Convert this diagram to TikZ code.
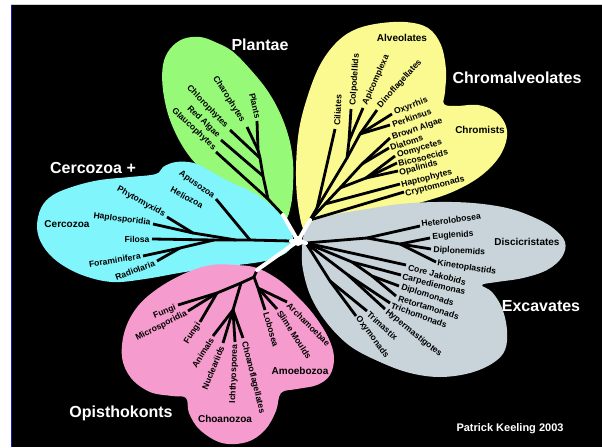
\documentclass[tikz,border=0pt]{standalone}
\usepackage{fontspec}
\setmainfont{Liberation Sans}
\definecolor{cgreen}{RGB}{150,250,120}
\definecolor{cyellow}{RGB}{250,250,145}
\definecolor{ccyan}{RGB}{128,245,252}
\definecolor{cgrey}{RGB}{200,212,218}
\definecolor{cpink}{RGB}{245,155,205}
\definecolor{cblue}{RGB}{20,20,200}
\begin{document}
\begin{tikzpicture}[x=1pt,y=-1pt,
  br/.style={line width=2.8pt, line join=round},
  wl/.style={white, line width=4pt, line cap=round},
  lb/.style={font=\bfseries\fontsize{8.6}{9}\selectfont, inner sep=0.3pt},
  gp/.style={font=\bfseries\fontsize{10}{11}\selectfont, inner sep=0pt},
  tt/.style={font=\bfseries\fontsize{16}{18}\selectfont, text=white, inner sep=0pt},
  petal/.style={smooth cycle, tension=0.6}]
\useasboundingbox (0,0) rectangle (602,447);
% background
\fill[white] (0,0) rectangle (602,447);
\fill[black] (12,5) rectangle (602,447);
\draw[cblue, line width=1.2pt] (11.6,5) -- (11.6,447);
\draw[gray!35, line width=0.8pt] (11,4.6) -- (602,4.6);
% petals
\fill[cyellow] plot[petal] coordinates {(305,232) (298,205) (296,170) (299,130) (308,95) (320,65) (335,44) (352,31) (375,24) (405,22) (428,28) (441,45) (446,70) (445,92) (444,104) (456,106) (478,105) (496,112) (506,126) (506,142) (497,160) (478,178) (450,193) (415,204) (378,213) (345,223) (320,230)};
\fill[cgreen] plot[petal] coordinates {(183,39) (200,37) (215,42) (232,51) (250,69) (267,90) (280,113) (289,138) (293,162) (293,185) (291,205) (285,220) (270,214) (240,195) (205,172) (185,150) (170,120) (163,90) (163,65) (170,49)};
\fill[ccyan] plot[petal] coordinates {(37,228) (41,208) (53,195) (75,186) (100,180) (130,177) (156,174) (163,167) (176,162) (194,163) (210,171) (228,181) (252,192) (273,207) (288,225) (293,241) (286,253) (265,261) (230,266) (185,272) (145,279) (112,282) (82,275) (58,262) (43,246)};
\fill[cpink] plot[petal] coordinates {(257,268) (236,265) (212,265) (188,272) (160,287) (138,306) (125,330) (122,357) (131,378) (150,392) (172,396) (186,398) (189,413) (200,430) (222,443) (247,442) (265,430) (276,411) (281,393) (297,389) (317,385) (330,375) (334,357) (328,337) (314,315) (297,296) (279,280)};
\fill[cgrey] plot[petal] coordinates {(310,223) (333,215) (367,209) (400,204) (437,202) (473,203) (507,208) (533,217) (553,228) (565,242) (562,257) (547,270) (523,278) (497,282) (482,285) (492,292) (502,308) (507,330) (505,350) (493,363) (470,373) (440,377) (410,373) (380,362) (350,346) (327,323) (311,297) (303,270) (302,250) (304,234)};
% ---------- Plantae tree
\coordinate (pb) at (283,215);
\coordinate (pA) at (268,199);
\coordinate (pB) at (263,176);
\coordinate (pC) at (260,158);
\coordinate (pD) at (258,150);
\coordinate (tGl) at (216,152);
\coordinate (tRA) at (221,140);
\coordinate (tCl) at (230,130);
\coordinate (tCh) at (247,127);
\coordinate (tPl) at (257,121);
\draw[br] (pb) -- (pA) -- (tGl);
\draw[br] (pA) -- (pB) -- (pC) -- (pD) -- (tPl);
\draw[br] (pB) -- (tRA);
\draw[br] (pC) -- (tCl);
\draw[br] (pD) -- (tCh);
% ---------- Chromalveolate tree
\coordinate (yb) at (310,220);
\coordinate (yCi) at (317,208);
\coordinate (yA1) at (347,158);
\coordinate (yA2) at (349,141);
\coordinate (yA3) at (360,134);
\coordinate (yH) at (325,204);
\coordinate (yCH) at (340,188);
\coordinate (yS1) at (362,164);
\coordinate (yS2) at (366,178);
\coordinate (tCi) at (335,129);
\coordinate (tCo) at (351,109);
\coordinate (tAp) at (363,108);
\coordinate (tDi) at (377,110);
\coordinate (tOx) at (392,114);
\coordinate (tPe) at (390,125);
\coordinate (tBA) at (390,138);
\coordinate (tDt) at (389,148);
\coordinate (tOo) at (395,156);
\coordinate (tBi) at (397,163);
\coordinate (tOp) at (398,171);
\coordinate (tHa) at (400,184);
\coordinate (tCr) at (404,192);
\draw[br] (yb) -- (yCi) -- (yA1) -- (yA2) -- (tCo);
\draw[br] (yCi) -- (tCi);
\draw[br] (yA2) -- (tAp);
\draw[br] (yA1) -- (yA3) -- (tDi);
\draw[br] (yA3) -- (tOx);
\draw[br] (yA3) -- (tPe);
\draw[br] (yb) -- (yH) -- (yCH) -- (yS1) -- (tBA);
\draw[br] (yS1) -- (tDt);
\draw[br] (yCH) -- (yS2) -- (tOo);
\draw[br] (yS2) -- (tBi);
\draw[br] (yS2) -- (tOp);
\draw[br] (yH) -- (tHa);
\draw[br] (yb) -- (tCr);
% ---------- Cercozoa tree
\coordinate (cb) at (291,241);
\coordinate (cN1) at (250,240);
\coordinate (cN3) at (236,240);
\coordinate (cN4) at (214,240);
\coordinate (cN2) at (193,233);
\coordinate (cN5) at (180,248);
\coordinate (tAs) at (216,199);
\coordinate (tPh) at (167,217);
\coordinate (tHp) at (153,224);
\coordinate (tFi) at (152,239);
\coordinate (tFo) at (143,256);
\coordinate (tRa) at (157,261);
\draw[br] (cb) -- (cN1) -- (cN3) -- (cN4) -- (tFi);
\draw[br] (cN1) -- (tAs);
\draw[br] (cN3) -- (cN2) -- (tPh);
\draw[br] (cN2) -- (tHp);
\draw[br] (cN4) -- (cN5) -- (tFo);
\draw[br] (cN5) -- (tRa);
% ---------- Opisthokont tree
\coordinate (ob) at (257,270);
\coordinate (oN1) at (254,277);
\coordinate (oAm) at (258,288);
\coordinate (oOp) at (241,283);
\coordinate (oFu) at (217,293);
\coordinate (oAn) at (233,310);
\coordinate (tF1) at (178,305);
\coordinate (tMi) at (188,311);
\coordinate (tF2) at (200,322);
\coordinate (tAn) at (213,336);
\coordinate (tNu) at (223,343);
\coordinate (tIc) at (235,342);
\coordinate (tCf) at (243,338);
\coordinate (tLo) at (265,310);
\coordinate (tSM) at (277,309);
\coordinate (tAr) at (287,302);
\draw[br] (ob) -- (oN1) -- (oAm) -- (tLo);
\draw[br] (oAm) -- (tSM);
\draw[br] (oAm) -- (tAr);
\draw[br] (oN1) -- (oOp) -- (oFu) -- (tF1);
\draw[br] (oFu) -- (tMi);
\draw[br] (oFu) -- (tF2);
\draw[br] (oOp) -- (oAn) -- (tAn);
\draw[br] (oAn) -- (tNu);
\draw[br] (oAn) -- (tIc);
\draw[br] (oAn) -- (tCf);
% ---------- Excavate tree
\coordinate (eb) at (306,243);
\coordinate (eD1) at (367,238);
\coordinate (eD2) at (400,244);
\coordinate (eF1) at (352,262);
\coordinate (eF2) at (372,276);
\coordinate (eP1) at (348,275);
\coordinate (eX1) at (330,281);
\coordinate (tHe) at (420,226);
\coordinate (tEu) at (430,238);
\coordinate (tDn) at (431,249);
\coordinate (tKi) at (436,262);
\coordinate (tCJ) at (406,265);
\coordinate (tCa) at (401,275);
\coordinate (tDm) at (399,286);
\coordinate (tRe) at (396,296);
\coordinate (tTr) at (390,303);
\coordinate (tHy) at (385,309);
\coordinate (tTx) at (367,311);
\coordinate (tOm) at (356,316);
\draw[br] (eb) -- (eD1) -- (tHe);
\draw[br] (eD1) -- (eD2) -- (tEu);
\draw[br] (eD2) -- (tDn);
\draw[br] (eD2) -- (tKi);
\draw[br] (eb) -- (tCJ);
\draw[br] (eb) -- (eF1) -- (tCa);
\draw[br] (eF1) -- (eF2) -- (tDm);
\draw[br] (eF2) -- (tRe);
\draw[br] (eb) -- (eP1) -- (tTr);
\draw[br] (eP1) -- (tHy);
\draw[br] (eb) -- (eX1) -- (tTx);
\draw[br] (eX1) -- (tOm);
% ---------- white centre
\coordinate (ctr) at (298,241);
\draw[wl] (ctr) -- (pb);
\draw[wl] (ctr) -- (yb);
\draw[wl] (ctr) -- (ob);
\draw[wl] (ctr) -- (eb);
\draw[wl] (ctr) -- (cb);
\fill[white] (ctr) circle (5);
% ---------- labels: Plantae
\node[lb, anchor=east, rotate=-77] (LPl) at (258,119) {Plants};
\node[lb, anchor=east, rotate=-58] (LCh) at (243,122) {Charophytes};
\node[lb, anchor=east, rotate=-46] (LCl) at (227,127) {Chlorophytes};
\node[lb, anchor=east, rotate=-44] (LRA) at (219,137) {Red Algae};
\node[lb, anchor=east, rotate=-43] (LGl) at (215,149) {Glaucophytes};
% Chromalveolates
\node[lb, anchor=west, rotate=87] (LCi) at (337,126) {Ciliates};
\node[lb, anchor=west, rotate=86] (LCo) at (353,106) {Colpodellids};
\node[lb, anchor=west, rotate=66] (LAp) at (365,105) {Apicomplexa};
\node[lb, anchor=west, rotate=48] (LDi) at (379,107) {Dinoflagellates};
\node[lb, anchor=west, rotate=21] (LOx) at (394,113) {Oxyrrhis};
\node[lb, anchor=west, rotate=20] (LPe) at (392,125) {Perkinsus};
\node[lb, anchor=west, rotate=19] (LBA) at (392,138) {Brown Algae};
\node[lb, anchor=west, rotate=18] (LDt) at (390,148) {Diatoms};
\node[lb, anchor=west, rotate=17] (LOo) at (397,156) {Oomycetes};
\node[lb, anchor=west, rotate=14] (LBi) at (398,164) {Bicosoecids};
\node[lb, anchor=west, rotate=14] (LOp) at (399,173) {Opalinids};
\node[lb, anchor=west, rotate=14] (LHa) at (401,185) {Haptophytes};
\node[lb, anchor=west, rotate=14] (LCr) at (405,194) {Cryptomonads};
% Cercozoa
\node[lb, anchor=east, rotate=-35] (LAs) at (214,197) {Apusozoa};
\node[lb, anchor=east, rotate=-28] (LHz) at (203,206) {Heliozoa};
\node[lb, anchor=east, rotate=-29] (LPh) at (165,215) {Phytomyxids};
\node[lb, anchor=east, rotate=-7] (LHp) at (151,223) {Haplosporidia};
\node[lb, anchor=east] (LFi) at (150,239) {Filosa};
\node[lb, anchor=east, rotate=9] (LFo) at (141,256) {Foraminifera};
\node[lb, anchor=east, rotate=20] (LRa) at (155,263) {Radiolaria};
% Opisthokonts
\node[lb, anchor=east, rotate=22] (LF1) at (176,307) {Fungi};
\node[lb, anchor=east, rotate=27] (LMi) at (187,313) {Microsporidia};
\node[lb, anchor=east, rotate=58] (LF2) at (199,323) {Fungi};
\node[lb, anchor=east, rotate=58] (LAn) at (212,338) {Animals};
\node[lb, anchor=east, rotate=68] (LNu) at (222,346) {Nucleariids};
\node[lb, anchor=east, rotate=88] (LIc) at (235,344) {Ichthyosporea};
\node[lb, anchor=west, rotate=-76] (LCf) at (244,341) {Choanoflagellates};
\node[lb, anchor=west, rotate=-74] (LLo) at (266,312) {Lobosea};
\node[lb, anchor=west, rotate=-57] (LSM) at (279,311) {Slime Moulds};
\node[lb, anchor=west, rotate=-45] (LAr) at (288,304) {Archamoebae};
% Excavates
\node[lb, anchor=west, rotate=7.5] (LHe) at (421,224) {Heterolobosea};
\node[lb, anchor=west, rotate=4] (LEu) at (432,237) {Euglenids};
\node[lb, anchor=west, rotate=-3] (LDn) at (433,250) {Diplonemids};
\node[lb, anchor=west, rotate=-9] (LKi) at (437,263) {Kinetoplastids};
\node[lb, anchor=west, rotate=-15] (LCJ) at (408,267) {Core Jakobids};
\node[lb, anchor=west, rotate=-14] (LCa) at (402,277) {Carpediemonas};
\node[lb, anchor=west, rotate=-18] (LDm) at (401,287) {Diplomonads};
\node[lb, anchor=west, rotate=-17] (LRe) at (398,298) {Retortamonads};
\node[lb, anchor=west, rotate=-20] (LTr) at (391,305) {Trichomonads};
\node[lb, anchor=west, rotate=-39] (LHy) at (386,311) {Hypermastigotes};
\node[lb, anchor=west, rotate=-42] (LTx) at (368,313) {Trimastix};
\node[lb, anchor=west, rotate=-53] (LOm) at (357,317) {Oxymonads};
% group labels
\node[gp] (GAl) at (402,38) {Alveolates};
\node[gp] (GCm) at (480,130) {Chromists};
\node[gp] (GCz) at (67,224) {Cercozoa};
\node[gp] (GDc) at (527,242) {Discicristates};
\node[gp] (GAm) at (300,371) {Amoebozoa};
\node[gp] (GCn) at (225,419) {Choanozoa};
% titles
\node[tt] (TPl) at (260,45) {Plantae};
\node[tt] (TCh) at (517,78) {Chromalveolates};
\node[tt] (TCz) at (93,168) {Cercozoa +};
\node[tt] (TEx) at (541,306) {Excavates};
\node[tt] (TOp) at (121,413) {Opisthokonts};
\node[font=\bfseries\fontsize{11}{12}\selectfont, text=white, inner sep=0pt] (TPK) at (510,429) {Patrick Keeling 2003};
\end{tikzpicture}
\end{document}
